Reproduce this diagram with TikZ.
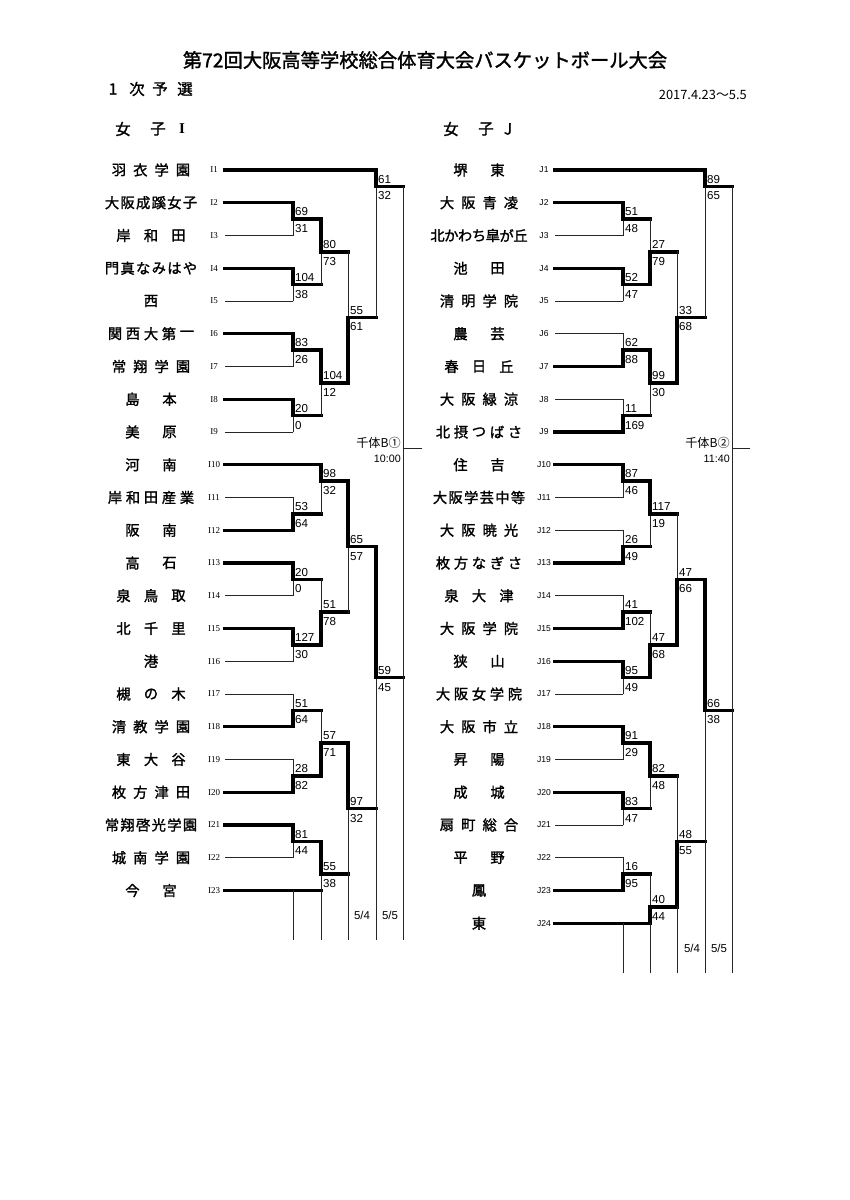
\documentclass[tikz,border=0pt]{standalone}
\usepackage{fontspec}
\setmainfont{Liberation Sans}
\newfontfamily\jp{Noto Sans CJK JP}
\newfontfamily\jpb[FakeBold=1.5]{Noto Sans CJK JP}
\newfontfamily\serf{Liberation Serif}

\tikzset{
  win/.style={line width=2.3pt, line cap=rect, line join=miter},
  lose/.style={line width=0.6pt, line cap=rect, black!85},
  sc/.style={font=\fontsize{8.1}{8}\selectfont, inner sep=0pt},
  nm/.style={font=\jpb\fontsize{10}{10}\selectfont, inner sep=0pt},
  lbl/.style={font=\serf\fontsize{6.3}{6.5}\selectfont, inner sep=0pt},
  hd/.style={font=\jpb\fontsize{10.8}{11}\selectfont, inner sep=0pt},
  small/.style={font=\fontsize{8}{8}\selectfont, inner sep=0pt},
}

% match: #1 name, #2 x, #3 next x, #4 top y, #5 bottom y, #6 junction y, #7 t/b winner, #8 top score, #9 bottom score
\newcommand\mt[9]{%
  \coordinate (#1) at (#2,#6);
  \coordinate (#1-t) at (#2,#4);
  \coordinate (#1-b) at (#2,#5);
  \coordinate (#1-o) at (#3,#6);
  \if t#7
    \draw[lose] (#1-b) -- (#1);
    \draw[win] (#1-t) -- (#1) -- (#1-o);
  \else
    \draw[lose] (#1-t) -- (#1);
    \draw[win] (#1-b) -- (#1) -- (#1-o);
  \fi
  \node[sc,anchor=base west] (#1-s1) at ({#2+1.8},{#6-3.2}) {#8};
  \node[sc,anchor=base west] (#1-s2) at ({#2+1.8},{#6+13.4}) {#9};
}

% team: #1 id, #2 y, #3 name centre x, #4 number of chars, #5 chars, #6 end x, #7 style, #8 label x, #9 line start x
\newcommand\tm[9]{%
  \node[lbl] (#1) at (#8,#2) {#1};
  \pgfmathsetmacro\nmsp{{0,0,37,27.5,21.33,18,15.6,13.83}[#4]}
  \foreach \c [count=\i] in {#5} {
    \node[nm] (#1-n\i) at ({#3+(\i-(#4+1)/2)*\nmsp},#2) {\c};
  }
  \coordinate (#1-s) at (#9,#2);
  \coordinate (#1-e) at (#6,#2);
  \draw[#7] (#1-s) -- (#1-e);
}
\newcommand\tmL[6]{\tm{#1}{#2}{151}{#3}{#4}{#5}{#6}{214}{225}}
\newcommand\tmR[6]{\tm{#1}{#2}{479}{#3}{#4}{#5}{#6}{544}{555}}

\begin{document}
\begin{tikzpicture}[x=0.7pt,y=-0.7pt]
\useasboundingbox[fill=white] (0,0) rectangle (850,1200);

% header
\node[font=\jpb\fontsize{13.5}{14}\selectfont, inner sep=0pt] (title) at (425,60) {第72回大阪高等学校総合体育大会バスケットボール大会};
\node[hd] (h1) at (113,89) {1};
\node[hd] (h2) at (137,89) {次};
\node[hd] (h3) at (160,89) {予};
\node[hd] (h4) at (185,89) {選};
\node[font=\jp\fontsize{9}{9}\selectfont, inner sep=0pt, anchor=east] (date) at (747,95) {2017.4.23～5.5};
\node[hd] (gi1) at (123,129) {女};
\node[hd] (gi2) at (158,129) {子};
\node[font=\serf\bfseries\fontsize{10.5}{11}\selectfont, inner sep=0pt] (gi3) at (182,129) {I};
\node[hd] (gj1) at (451,129) {女};
\node[hd] (gj2) at (486,129) {子};
\node[hd] (gj3) at (508,129) {J};

% ---------------- left bracket (I) ----------------
\tmL{I1}{170}{4}{羽,衣,学,園}{376}{win}
\tmL{I2}{202.75}{6}{大,阪,成,蹊,女,子}{293}{win}
\tmL{I3}{235.5}{3}{岸,和,田}{293}{lose}
\tmL{I4}{268.25}{6}{門,真,な,み,は,や}{293}{win}
\tmL{I5}{301}{1}{西}{293}{lose}
\tmL{I6}{333.75}{5}{関,西,大,第,一}{293}{win}
\tmL{I7}{366.5}{4}{常,翔,学,園}{293}{lose}
\tmL{I8}{399.25}{2}{島,本}{293}{win}
\tmL{I9}{432}{2}{美,原}{293}{lose}
\tmL{I10}{464.75}{2}{河,南}{321}{win}
\tmL{I11}{497.5}{5}{岸,和,田,産,業}{293}{lose}
\tmL{I12}{530.25}{2}{阪,南}{293}{win}
\tmL{I13}{563}{2}{高,石}{293}{win}
\tmL{I14}{595.75}{3}{泉,鳥,取}{293}{lose}
\tmL{I15}{628.5}{3}{北,千,里}{293}{win}
\tmL{I16}{661.25}{1}{港}{293}{lose}
\tmL{I17}{694}{3}{槻,の,木}{293}{lose}
\tmL{I18}{726.75}{4}{清,教,学,園}{293}{win}
\tmL{I19}{759.5}{3}{東,大,谷}{293}{lose}
\tmL{I20}{792.25}{4}{枚,方,津,田}{293}{win}
\tmL{I21}{825}{6}{常,翔,啓,光,学,園}{293}{win}
\tmL{I22}{857.75}{4}{城,南,学,園}{293}{lose}
\tmL{I23}{890.5}{2}{今,宮}{321}{win}

\mt{La}{293}{321}{202.75}{235.5}{219.125}{t}{69}{31}
\mt{Lb}{293}{321}{268.25}{301}{284.625}{t}{104}{38}
\mt{Lc}{293}{321}{333.75}{366.5}{350.125}{t}{83}{26}
\mt{Ld}{293}{321}{399.25}{432}{415.625}{t}{20}{0}
\mt{Le}{293}{321}{497.5}{530.25}{513.875}{b}{53}{64}
\mt{Lf}{293}{321}{563}{595.75}{579.375}{t}{20}{0}
\mt{Lg}{293}{321}{628.5}{661.25}{644.875}{t}{127}{30}
\mt{Lh}{293}{321}{694}{726.75}{710.375}{b}{51}{64}
\mt{Li}{293}{321}{759.5}{792.25}{775.875}{b}{28}{82}
\mt{Lj}{293}{321}{825}{857.75}{841.375}{t}{81}{44}
\mt{Lk}{321}{348}{219.125}{284.625}{251.875}{t}{80}{73}
\mt{Ll}{321}{348}{350.125}{415.625}{382.875}{t}{104}{12}
\mt{Lm}{321}{348}{464.75}{513.875}{481.125}{t}{98}{32}
\mt{Ln}{321}{348}{579.375}{644.875}{612.125}{b}{51}{78}
\mt{Lo}{321}{348}{710.375}{775.875}{743.125}{b}{57}{71}
\mt{Lp}{321}{348}{841.375}{890.5}{874.125}{t}{55}{38}
\mt{Lq}{348}{376}{251.875}{382.875}{317.375}{b}{55}{61}
\mt{Lr}{348}{376}{481.125}{612.125}{546.625}{t}{65}{57}
\mt{Ls}{348}{376}{743.125}{874.125}{808.625}{t}{97}{32}
\mt{Lt}{376}{403}{170}{317.375}{186.375}{t}{61}{32}
\mt{Lu}{376}{403}{546.625}{808.625}{677.625}{t}{59}{45}

% left final and guide lines
\coordinate (Lf5) at (403,940);
\draw[lose] (Lt-o) -- (Lf5);
\coordinate (Lx0) at (403,448);
\coordinate (Lx1) at (422,448);
\draw[lose] (Lx0) -- (Lx1);
\coordinate (Lg1a) at (293,890.5); \coordinate (Lg1b) at (293,940);
\coordinate (Lg2b) at (321,940);
\coordinate (Lg3b) at (348,940);
\coordinate (Lg4b) at (376,940);
\draw[lose] (Lg1a) -- (Lg1b);
\draw[lose] (Lp-b) -- (Lg2b);
\draw[lose] (Lp-o) -- (Lg3b);
\draw[lose] (Ls-o) -- (Lg4b);
\node[font=\jp\fontsize{8.5}{9}\selectfont, inner sep=0pt, anchor=base east] (Lvenue) at (401,447) {千体B①};
\node[font=\fontsize{7.5}{8}\selectfont, inner sep=0pt, anchor=base east] (Ltime) at (401,462) {10:00};
\node[small] (Ld4) at (362,915) {5/4};
\node[small] (Ld5) at (390,915) {5/5};

% ---------------- right bracket (J) ----------------
\tikzset{lbl/.style={font=\fontsize{6}{6.5}\selectfont, inner sep=0pt}}
\tmR{J1}{170}{2}{堺,東}{705}{win}
\tmR{J2}{202.75}{4}{大,阪,青,凌}{623}{win}
\tmR{J3}{235.5}{7}{北,か,わ,ち,皐,が,丘}{623}{lose}
\tmR{J4}{268.25}{2}{池,田}{623}{win}
\tmR{J5}{301}{4}{清,明,学,院}{623}{lose}
\tmR{J6}{333.75}{2}{農,芸}{623}{lose}
\tmR{J7}{366.5}{3}{春,日,丘}{623}{win}
\tmR{J8}{399.25}{4}{大,阪,緑,涼}{623}{lose}
\tmR{J9}{432}{5}{北,摂,つ,ば,さ}{623}{win}
\tmR{J10}{464.75}{2}{住,吉}{623}{win}
\tmR{J11}{497.5}{6}{大,阪,学,芸,中,等}{623}{lose}
\tmR{J12}{530.25}{4}{大,阪,暁,光}{623}{lose}
\tmR{J13}{563}{5}{枚,方,な,ぎ,さ}{623}{win}
\tmR{J14}{595.75}{3}{泉,大,津}{623}{lose}
\tmR{J15}{628.5}{4}{大,阪,学,院}{623}{win}
\tmR{J16}{661.25}{2}{狭,山}{623}{win}
\tmR{J17}{694}{5}{大,阪,女,学,院}{623}{lose}
\tmR{J18}{726.75}{4}{大,阪,市,立}{623}{win}
\tmR{J19}{759.5}{2}{昇,陽}{623}{lose}
\tmR{J20}{792.25}{2}{成,城}{623}{win}
\tmR{J21}{825}{4}{扇,町,総,合}{623}{lose}
\tmR{J22}{857.75}{2}{平,野}{623}{lose}
\tmR{J23}{890.5}{1}{鳳}{623}{win}
\tmR{J24}{923.25}{1}{東}{650}{win}

\mt{Ra}{623}{650}{202.75}{235.5}{219.125}{t}{51}{48}
\mt{Rb}{623}{650}{268.25}{301}{284.625}{t}{52}{47}
\mt{Rc}{623}{650}{333.75}{366.5}{350.125}{b}{62}{88}
\mt{Rd}{623}{650}{399.25}{432}{415.625}{b}{11}{169}
\mt{Re}{623}{650}{464.75}{497.5}{481.125}{t}{87}{46}
\mt{Rf}{623}{650}{530.25}{563}{546.625}{b}{26}{49}
\mt{Rg}{623}{650}{595.75}{628.5}{612.125}{b}{41}{102}
\mt{Rh}{623}{650}{661.25}{694}{677.625}{t}{95}{49}
\mt{Ri}{623}{650}{726.75}{759.5}{743.125}{t}{91}{29}
\mt{Rj}{623}{650}{792.25}{825}{808.625}{t}{83}{47}
\mt{Rk}{623}{650}{857.75}{890.5}{874.125}{b}{16}{95}
\mt{Rl}{650}{677}{219.125}{284.625}{251.875}{b}{27}{79}
\mt{Rm}{650}{677}{350.125}{415.625}{382.875}{t}{99}{30}
\mt{Rn}{650}{677}{481.125}{546.625}{513.875}{t}{117}{19}
\mt{Ro}{650}{677}{612.125}{677.625}{644.875}{b}{47}{68}
\mt{Rp}{650}{677}{743.125}{808.625}{775.875}{t}{82}{48}
\mt{Rq}{650}{677}{874.125}{923.25}{906.875}{b}{40}{44}
\mt{Rr}{677}{705}{251.875}{382.875}{317.375}{b}{33}{68}
\mt{Rs}{677}{705}{513.875}{644.875}{579.375}{b}{47}{66}
\mt{Rt}{677}{705}{775.875}{906.875}{841.375}{b}{48}{55}
\mt{Ru}{705}{732}{170}{317.375}{186.375}{t}{89}{65}
\mt{Rv}{705}{732}{579.375}{841.375}{710.375}{t}{66}{38}

% right final and guide lines
\coordinate (Rf5) at (732,973);
\draw[lose] (Ru-o) -- (Rf5);
\coordinate (Rx0) at (732,448);
\coordinate (Rx1) at (750,448);
\draw[lose] (Rx0) -- (Rx1);
\coordinate (Rg1a) at (623,923.25); \coordinate (Rg1b) at (623,973);
\coordinate (Rg2b) at (650,973);
\coordinate (Rg3b) at (677,973);
\coordinate (Rg4b) at (705,973);
\draw[lose] (Rg1a) -- (Rg1b);
\draw[lose] (Rq-b) -- (Rg2b);
\draw[lose] (Rq-o) -- (Rg3b);
\draw[lose] (Rt-o) -- (Rg4b);
\node[font=\jp\fontsize{8.5}{9}\selectfont, inner sep=0pt, anchor=base east] (Rvenue) at (730,447) {千体B②};
\node[font=\fontsize{7.5}{8}\selectfont, inner sep=0pt, anchor=base east] (Rtime) at (730,462) {11:40};
\node[small] (Rd4) at (692,948) {5/4};
\node[small] (Rd5) at (719,948) {5/5};
\end{tikzpicture}
\end{document}
